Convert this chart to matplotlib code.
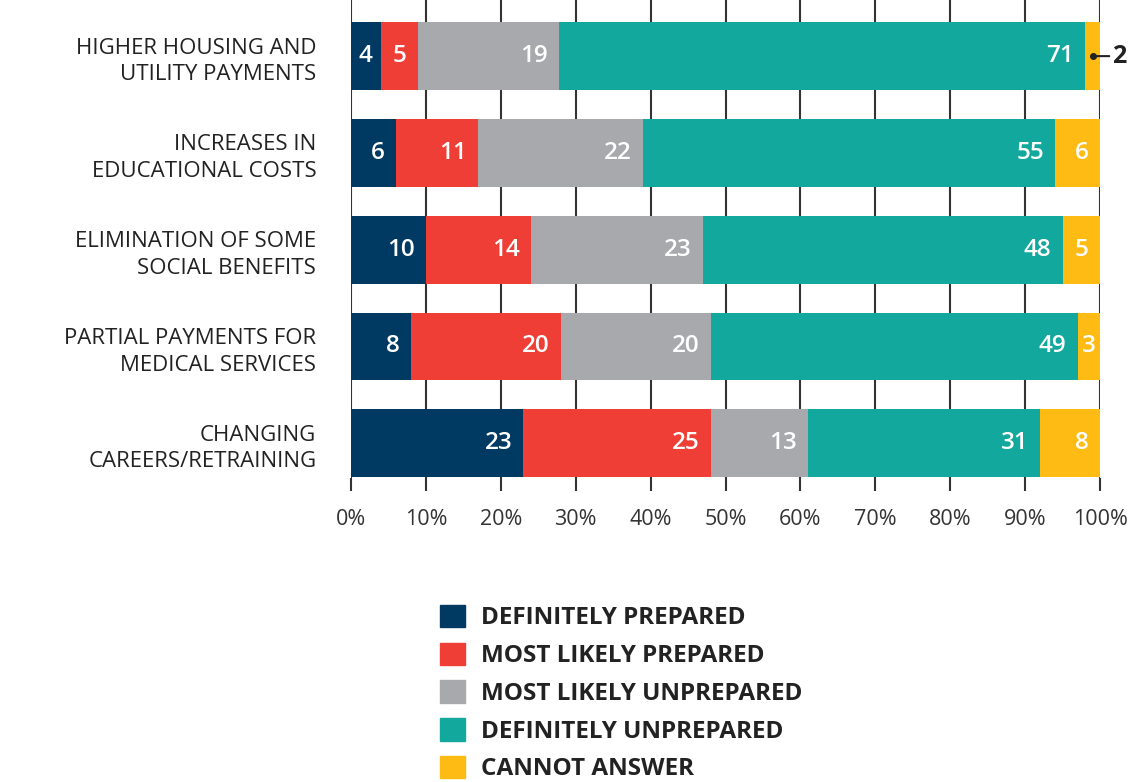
import numpy as np
import matplotlib
matplotlib.use("Agg")
import matplotlib.pyplot as plt
from matplotlib.patches import Patch

plt.rcParams['font.family'] = ['Open Sans', 'DejaVu Sans']

categories = ["HIGHER HOUSING AND\nUTILITY PAYMENTS",
              "INCREASES IN\nEDUCATIONAL COSTS",
              "ELIMINATION OF SOME\nSOCIAL BENEFITS",
              "PARTIAL PAYMENTS FOR\nMEDICAL SERVICES",
              "CHANGING\nCAREERS/RETRAINING"]
series_names = ["DEFINITELY PREPARED", "MOST LIKELY PREPARED",
                "MOST LIKELY UNPREPARED", "DEFINITELY UNPREPARED",
                "CANNOT ANSWER"]
definitely_prepared = [4, 6, 10, 8, 23]
most_likely_prepared = [5, 11, 14, 20, 25]
most_likely_unprepared = [19, 22, 23, 20, 13]
definitely_unprepared = [71, 55, 48, 49, 31]
cannot_answer = [2, 6, 5, 3, 8]
colors = ["#003A63", "#EF3E36", "#A7A9AC", "#12A89D", "#FDBB13"]
xticks = np.arange(0, 101, 10)

values = np.array([definitely_prepared, most_likely_prepared,
                   most_likely_unprepared, definitely_unprepared,
                   cannot_answer], dtype=float)
# rows are shown on a 100% scale
shares = values / values.sum(axis=0) * 100

fig = plt.figure(figsize=(11.34, 7.82), dpi=100)
ax = fig.add_axes([351/1134, 1-478/782, 749/1134, 478/782])

y = np.arange(len(categories))
left = np.zeros(len(categories))
for i, name in enumerate(series_names):
    ax.barh(y, shares[i], left=left, height=0.7, color=colors[i],
            label=name, zorder=2)
    for j in range(len(categories)):
        w = shares[i][j]
        txt = f"{int(values[i][j])}"
        if w >= 6:
            ax.annotate(txt, (left[j] + w, y[j]), xytext=(-8, 0),
                        textcoords="offset points", ha="right", va="center",
                        color="white", fontsize=17.5, fontweight="semibold",
                        zorder=3)
        elif w >= 2.5:
            ax.annotate(txt, (left[j] + w / 2, y[j]), ha="center",
                        va="center", color="white", fontsize=17.5,
                        fontweight="semibold", zorder=3)
        else:
            # too narrow: label outside with a leader line
            mid = left[j] + w / 2
            ax.plot([mid], [y[j]], "o", color="#222222", ms=4, zorder=4,
                    clip_on=False)
            ax.annotate(txt, (mid, y[j]), xytext=(14, 0),
                        textcoords="offset points", ha="left", va="center",
                        color="#222222", fontsize=18, fontweight="bold",
                        arrowprops=dict(arrowstyle="-", color="#222222",
                                        lw=1.5, shrinkA=0, shrinkB=0))
    left += shares[i]

ax.set_xlim(0, 100)
ax.set_ylim(4.36, -0.58)
ax.set_xticks(xticks)
ax.set_xticklabels([f"{t}%" for t in xticks])
ax.set_yticks(y)
ax.set_yticklabels(categories, fontsize=16, color="#222222",
                   linespacing=1.35)
ax.tick_params(axis="y", length=0, pad=25)
ax.tick_params(axis="x", length=9, width=1.5, color="#333333",
               labelsize=15.5, labelcolor="#333333", pad=13)
for s in ax.spines.values():
    s.set_visible(False)
ax.grid(axis="x", color="#333333", linewidth=1.5, zorder=0)
ax.set_axisbelow(True)

handles = [Patch(color=c) for c in colors]
fig.legend(handles, series_names, loc="upper left",
           bbox_to_anchor=(418/1134, 1-583/782), frameon=False,
           prop=dict(size=17.5, weight="bold"), handlelength=1.05,
           handleheight=1.05, labelspacing=0.5, handletextpad=0.65,
           labelcolor="#222222")

fig.savefig("out.png", dpi=100)
